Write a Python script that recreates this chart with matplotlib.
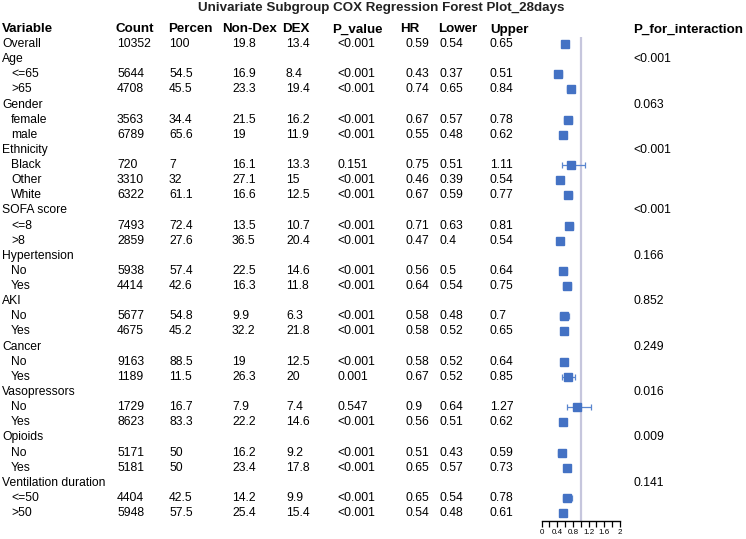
import matplotlib.pyplot as plt
import numpy as np

plt.rcParams['font.family'] = ['Liberation Sans', 'DejaVu Sans']

# dados da tabela
variables = ["Overall", "Age", "<=65", ">65", "Gender", "female", "male",
             "Ethnicity", "Black", "Other", "White", "SOFA score", "<=8", ">8",
             "Hypertension", "No", "Yes", "AKI", "No", "Yes", "Cancer", "No", "Yes",
             "Vasopressors", "No", "Yes", "Opioids", "No", "Yes",
             "Ventilation duration", "<=50", ">50"]
is_sub = [False, False, True, True, False, True, True,
          False, True, True, True, False, True, True,
          False, True, True, False, True, True, False, True, True,
          False, True, True, False, True, True,
          False, True, True]
count = ["10352", "", "5644", "4708", "", "3563", "6789", "", "720", "3310", "6322",
         "", "7493", "2859", "", "5938", "4414", "", "5677", "4675", "", "9163", "1189",
         "", "1729", "8623", "", "5171", "5181", "", "4404", "5948"]
percen = ["100", "", "54.5", "45.5", "", "34.4", "65.6", "", "7", "32", "61.1",
          "", "72.4", "27.6", "", "57.4", "42.6", "", "54.8", "45.2", "", "88.5", "11.5",
          "", "16.7", "83.3", "", "50", "50", "", "42.5", "57.5"]
non_dex = ["19.8", "", "16.9", "23.3", "", "21.5", "19", "", "16.1", "27.1", "16.6",
           "", "13.5", "36.5", "", "22.5", "16.3", "", "9.9", "32.2", "", "19", "26.3",
           "", "7.9", "22.2", "", "16.2", "23.4", "", "14.2", "25.4"]
dex = ["13.4", "", "8.4", "19.4", "", "16.2", "11.9", "", "13.3", "15", "12.5",
       "", "10.7", "20.4", "", "14.6", "11.8", "", "6.3", "21.8", "", "12.5", "20",
       "", "7.4", "14.6", "", "9.2", "17.8", "", "9.9", "15.4"]
p_value = ["<0.001", "", "<0.001", "<0.001", "", "<0.001", "<0.001", "", "0.151", "<0.001", "<0.001",
           "", "<0.001", "<0.001", "", "<0.001", "<0.001", "", "<0.001", "<0.001", "", "<0.001", "0.001",
           "", "0.547", "<0.001", "", "<0.001", "<0.001", "", "<0.001", "<0.001"]
hr = [0.59, None, 0.43, 0.74, None, 0.67, 0.55, None, 0.75, 0.46, 0.67,
      None, 0.71, 0.47, None, 0.56, 0.64, None, 0.58, 0.58, None, 0.58, 0.67,
      None, 0.9, 0.56, None, 0.51, 0.65, None, 0.65, 0.54]
lower = [0.54, None, 0.37, 0.65, None, 0.57, 0.48, None, 0.51, 0.39, 0.59,
         None, 0.63, 0.4, None, 0.5, 0.54, None, 0.48, 0.52, None, 0.52, 0.52,
         None, 0.64, 0.51, None, 0.43, 0.57, None, 0.54, 0.48]
upper = [0.65, None, 0.51, 0.84, None, 0.78, 0.62, None, 1.11, 0.54, 0.77,
         None, 0.81, 0.54, None, 0.64, 0.75, None, 0.7, 0.65, None, 0.64, 0.85,
         None, 1.27, 0.62, None, 0.59, 0.73, None, 0.78, 0.61]
p_interaction = ["", "<0.001", "", "", "0.063", "", "", "<0.001", "", "", "",
                 "<0.001", "", "", "0.166", "", "", "0.852", "", "", "0.249", "", "",
                 "0.016", "", "", "0.009", "", "", "0.141", "", ""]
x_ticks = [0, 0.2, 0.4, 0.6, 0.8, 1.0, 1.2, 1.4, 1.6, 1.8, 2.0]
x_labels = ["0", "", "0.4", "", "0.8", "", "1.2", "", "1.6", "", "2"]

W, H = 746, 539
fig = plt.figure(figsize=(W / 100, H / 100), dpi=100)

# eixo de texto em coordenadas de pixel
ax_t = fig.add_axes([0, 0, 1, 1])
ax_t.set_xlim(0, W)
ax_t.set_ylim(H, 0)
ax_t.axis('off')

y0, dy = 44, 15.13
fs, fs_h = 8.7, 9.6

ax_t.text(381, 8.5, "Univariate Subgroup COX Regression Forest Plot_28days",
          ha='center', va='center', fontsize=fs_h, fontweight='bold', color='#222222')

headers = [("Variable", 2), ("Count", 116), ("Percen", 168), ("Non-Dex", 222), ("DEX", 282),
           ("P_value", 332), ("HR", 400), ("Lower", 438), ("Upper", 490),
           ("P_for_interaction", 633)]
for txt, x in headers:
    ax_t.text(x, 29.5, txt, ha='left', va='center', fontsize=fs_h, fontweight='bold')

def fmt(v):
    return "" if v is None else f"{v:g}"

cols = [(count, 117), (percen, 169), (non_dex, 232), (dex, 286), (p_value, 337),
        ([fmt(v) for v in hr], 405), ([fmt(v) for v in lower], 439),
        ([fmt(v) for v in upper], 490), (p_interaction, 633)]
for i, var in enumerate(variables):
    y = y0 + i * dy
    ax_t.text(11 if is_sub[i] else 2, y, var, ha='left', va='center', fontsize=fs)
    for vals, x in cols:
        if vals[i]:
            ax_t.text(x, y, vals[i], ha='left', va='center', fontsize=fs)

# forest plot
x_left, x_right = 541.5, 620
y_top, y_bot = 37, 521
ax_f = fig.add_axes([x_left / W, 1 - y_bot / H, (x_right - x_left) / W, (y_bot - y_top) / H])
ax_f.set_xlim(0, 2)
ax_f.set_ylim((y_bot - y0) / dy, (y_top - y0) / dy)
ax_f.patch.set_alpha(0)

ax_f.axvline(1, color='#c6c6dd', lw=1.6, zorder=1)

rows = np.array([i for i, v in enumerate(hr) if v is not None])
hr_v = np.array([hr[i] for i in rows])
lo_v = np.array([lower[i] for i in rows])
up_v = np.array([upper[i] for i in rows])
ax_f.errorbar(hr_v, rows, xerr=[hr_v - lo_v, up_v - hr_v], fmt='s', color='#4472C4',
              ecolor='#5a86cf', elinewidth=0.9, capsize=2.2, capthick=0.9,
              markersize=6, zorder=3)

for s in ['top', 'left', 'right']:
    ax_f.spines[s].set_visible(False)
ax_f.spines['bottom'].set_linewidth(1.0)
ax_f.set_yticks([])
ax_f.set_xticks(x_ticks)
ax_f.set_xticklabels(x_labels, fontsize=5.8)
ax_f.tick_params(axis='x', direction='out', length=4, width=0.9, pad=2)

fig.savefig('out.png', dpi=100)
